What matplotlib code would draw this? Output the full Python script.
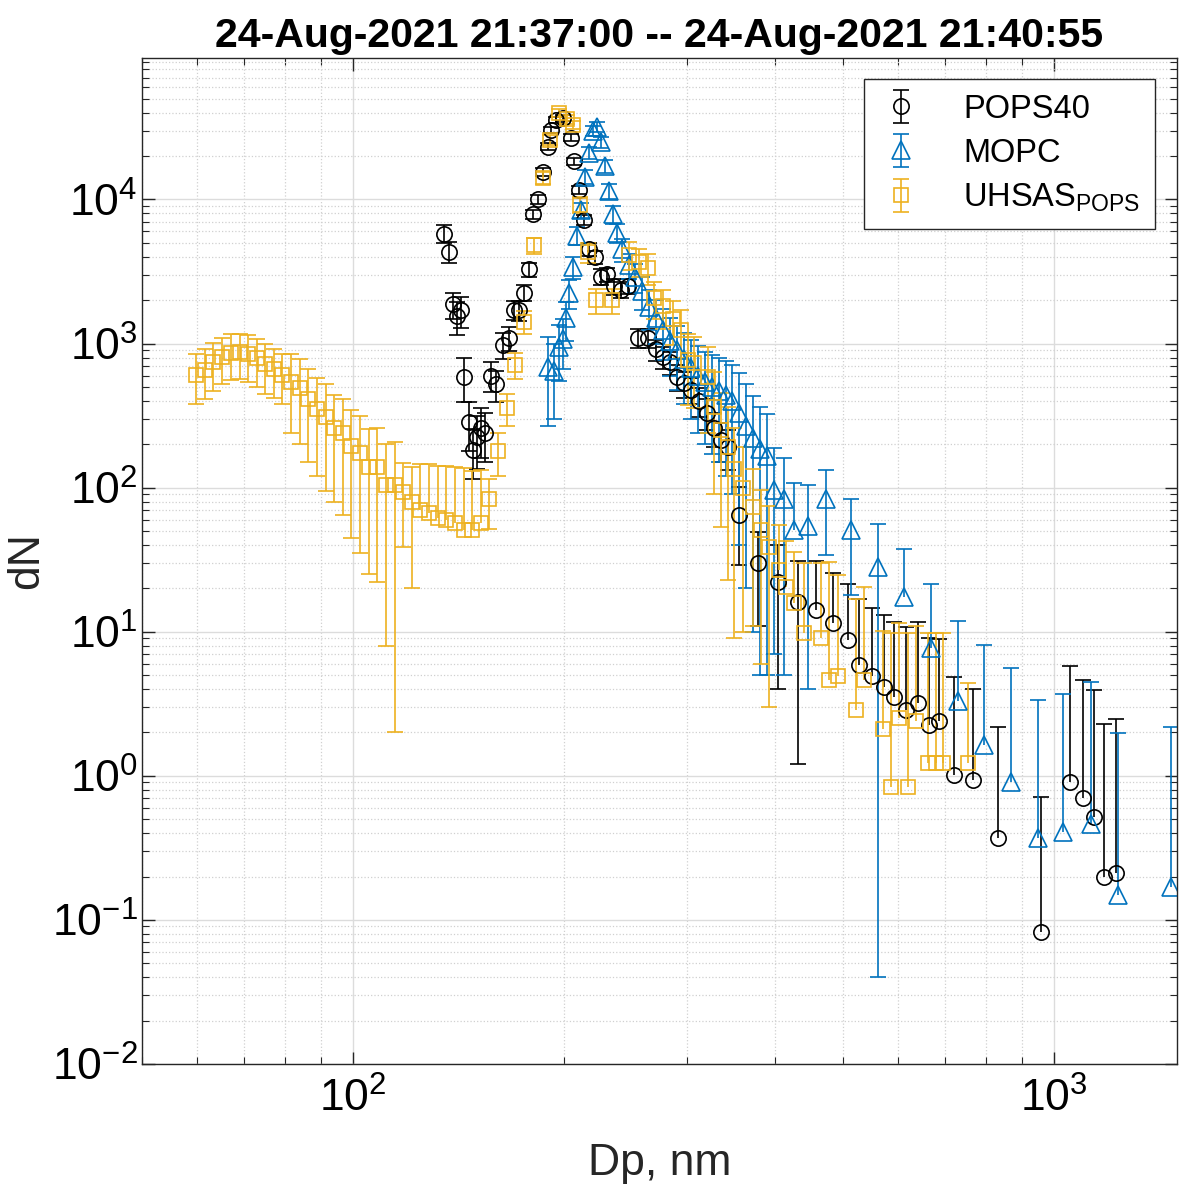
import numpy as np
import matplotlib.pyplot as plt
from matplotlib.ticker import LogLocator, NullFormatter

plt.rcParams['font.family'] = ['Liberation Sans', 'DejaVu Sans']
plt.rcParams['mathtext.fontset'] = 'custom'
plt.rcParams['mathtext.rm'] = 'Liberation Sans'
plt.rcParams['mathtext.it'] = 'Liberation Sans:italic'
plt.rcParams['mathtext.bf'] = 'Liberation Sans:bold'
plt.rcParams['axes.unicode_minus'] = False

# POPS40 (black circles)
pops_dp = [134.8, 137.1, 138.9, 140.7, 142.6, 144.0, 146.4, 148.3, 150.3, 152.3,
           154.3, 157.4, 160.0, 163.7, 166.9, 169.7, 172.5, 175.4, 178.2, 180.6,
           183.7, 186.6, 189.7, 191.6, 194.8, 199.3, 204.6, 206.7, 210.1, 213.6,
           217.1, 221.4, 225.8, 230.3, 235.7, 241.2, 246.8, 255.0, 263.5, 270.5,
           276.8, 283.3, 289.9, 296.6, 303.5, 311.6, 319.9, 327.3, 335.0, 342.8,
           355.3, 378.3, 404.0, 431.3, 457.7, 483.9, 508.3, 527.0, 550.0, 572.1,
           591.2, 615.0, 639.7, 663.3, 685.5, 719.8, 766.3, 832.0, 958.3, 1057,
           1100, 1141, 1179, 1226]
pops_dn = [5800, 4350, 1870, 1550, 1700, 590, 287, 184, 225, 260,
           240, 600, 520, 985, 1100, 1720, 1700, 2260, 3270, 7870,
           10000, 15600, 23300, 30600, 35900, 37000, 26900, 18400, 11700, 7260,
           4500, 3990, 2920, 3020, 2490, 2370, 2500, 1100, 1100, 910,
           810, 740, 590, 530, 480, 400, 330, 260, 215, 193,
           65, 30, 22, 16, 14.1, 11.5, 8.8, 5.9, 4.9, 4.15,
           3.5, 2.87, 3.2, 2.26, 2.4, 1.02, 0.94, 0.37, 0.083, 0.91,
           0.70, 0.52, 0.197, 0.21]
pops_err = [800, 700, 390, 400, 420, 200, 108, 70, 90, 100,
            90, 140, 130, 200, 210, 260, 260, 300, 380, 600,
            700, 1000, 1300, 1500, 1700, 1700, 1400, 1100, 800, 600,
            450, 400, 350, 350, 300, 300, 300, 170, 170, 150,
            140, 130, 120, 110, 100, 90, 80, 70, 65, 60,
            36, 19, 18, 14.8, 17, 14, 12.6, 11, 9.7, 9,
            8.1, 8, 8.5, 6.8, 6.5, 3.85, 3.06, 1.82, 0.63, 4.83,
            3.9, 3.43, 2.1, 2.27]

# MOPC (blue triangles)
mopc_dp = [189.7, 193.5, 196.7, 199.3, 201.3, 203.3, 206.0, 208.7, 211.5, 214.3,
           217.1, 220.0, 222.9, 225.8, 228.8, 231.9, 234.9, 238.0, 242.0, 247.6,
           252.6, 258.4, 264.4, 270.5, 276.8, 283.3, 289.9, 296.6, 303.5, 310.5,
           317.8, 325.2, 332.7, 340.5, 347.3, 355.3, 363.6, 372.0, 380.7, 389.6,
           398.6, 411.9, 425.7, 445.8, 472.9, 513.4, 561.0, 610.9, 667.6, 729.5,
           794.5, 868.4, 948.9, 1033, 1129, 1234, 1469]
mopc_dn = [690, 650, 950, 1070, 1500, 2250, 3400, 5600, 8500, 14400,
           21000, 30000, 32000, 25000, 17000, 11500, 7900, 5900, 4500, 3500,
           2900, 2300, 1800, 1500, 1250, 1050, 900, 780, 680, 600,
           540, 500, 470, 440, 400, 330, 270, 220, 185, 165,
           97, 83, 51, 54, 83, 51, 28, 17.5, 7.7, 3.3,
           1.64, 0.91, 0.37, 0.41, 0.46, 0.148, 0.17]
mopc_err = [420, 350, 400, 400, 450, 500, 600, 800, 1000, 1500,
            2000, 2500, 2500, 2200, 1800, 1400, 1100, 900, 800, 700,
            650, 600, 550, 500, 480, 450, 420, 400, 380, 360,
            340, 330, 320, 320, 310, 290, 250, 210, 180, 160,
            90, 78, 57, 50, 49, 33, 27.96, 19.8, 13.9, 8.6,
            6.4, 4.7, 3.0, 3.3, 4.0, 1.84, 2.02]

# UHSAS (orange squares)
uhsas_dp = [59.8, 61.5, 63.2, 65.1, 66.9, 68.9, 70.8, 72.9, 75.0, 77.1,
            79.3, 81.6, 84.0, 86.4, 88.9, 91.4, 94.0, 96.7, 99.5, 102.4,
            105.3, 108.3, 111.5, 114.7, 118.0, 121.4, 124.8, 128.4, 132.1, 135.9,
            139.8, 143.9, 148.0, 152.2, 156.6, 161.1, 165.7, 170.5, 175.4, 181.2,
            186.6, 191.0, 196.7, 202.0, 206.0, 210.8, 216.4, 222.1, 234.2, 247.6,
            255.7, 263.5, 268.8, 276.8, 286.1, 293.7, 300.5, 306.4, 320.8, 327.3,
            335.0, 342.8, 349.5, 360.1, 372.0, 381.9, 392.2, 405.3, 414.7, 425.7,
            440.0, 465.2, 477.5, 491.9, 521.9, 535.8, 570.3, 585.5, 601.0, 619.0,
            635.7, 661.2, 678.7, 694.5, 753.8]
uhsas_dn = [610, 660, 740, 810, 860, 870, 840, 790, 720, 670,
            610, 540, 490, 410, 350, 310, 260, 240, 195, 175,
            140, 140, 105, 105, 94, 80, 70, 67, 62, 60,
            57, 51, 51, 57, 83, 180, 360, 714, 1420, 4800,
            14200, 26000, 40000, 36000, 33000, 9200, 4300, 2000, 2000, 4150,
            3700, 3370, 2080, 1810, 1470, 1250, 774, 738, 590, 365,
            253, 193, 134, 100, 73, 51, 39, 27, 20.5, 15.9,
            9.8, 9.1, 4.6, 4.9, 2.87, 4.6, 2.1, 0.83, 2.5, 0.83,
            2.4, 1.23, 1.23, 1.23, 1.23]
uhsas_err = [230, 250, 270, 290, 300, 300, 300, 290, 270, 250,
             230, 300, 290, 260, 230, 215, 180, 175, 150, 140,
             115, 118, 97, 103, 55, 60, 75, 80, 80, 82,
             83, 85, 80, 75, 31, 60, 90, 150, 250, 600,
             1300, 2000, 2800, 2500, 2300, 1200, 700, 400, 400, 900,
             800, 800, 600, 550, 500, 450, 400, 380, 350, 275,
             200, 170, 125, 90, 62, 45, 36, 28, 22, 20,
             20, 21, 26, 20, 14, 16, 8, 9, 9, 9,
             8.5, 8.5, 8.5, 8.5, 3.2]

y_ticks = [1e-2, 1e-1, 1e0, 1e1, 1e2, 1e3, 1e4]
x_ticks = [1e2, 1e3]
title = '24-Aug-2021 21:37:00 -- 24-Aug-2021 21:40:55'

fig = plt.figure(figsize=(11.81, 11.88), dpi=100)
ax = fig.add_axes([0.1202, 0.1044, 0.8764, 0.8468])
ax.set_xscale('log')
ax.set_yscale('log')


def errplot(dp, dn, err, color, marker, ms, label):
    dp = np.array(dp)
    dn = np.array(dn)
    err = np.array(err)
    # like MATLAB on log axes: lower half is not drawn when it would reach <= 0
    ok = dn - err > 0
    lo = np.where(ok, err, 0.0)
    eb = ax.errorbar(dp, dn, yerr=[lo, err], fmt=marker, color=color,
                     mfc='none', mec=color, ms=ms, mew=1.2, elinewidth=1.2,
                     capsize=5.5, capthick=1.2, label=label)
    lower_caps = eb[1][0]
    lower_caps.set_ydata(np.where(ok, dn - err, np.nan))
    return eb


errplot(pops_dp, pops_dn, pops_err, 'black', 'o', 11, 'POPS40')
errplot(mopc_dp, mopc_dn, mopc_err, '#0072BD', '^', 12.5, 'MOPC')
errplot(uhsas_dp, uhsas_dn, uhsas_err, '#EDB120', 's', 9.5,
        'UHSAS$_{\\mathrm{POPS}}$')

ax.set_xlim(50, 1500)
ax.set_ylim(1e-2, 9.6e4)

ax.set_yticks(y_ticks)
ax.set_xticks(x_ticks)
ax.yaxis.set_minor_locator(LogLocator(base=10, subs=np.arange(2, 10), numticks=20))
ax.yaxis.set_minor_formatter(NullFormatter())
ax.xaxis.set_minor_formatter(NullFormatter())

ax.grid(True, which='major', color='#dcdcdc', lw=1.0, ls='-')
ax.grid(True, which='minor', color='#d0d0d0', lw=0.9, ls=':')
ax.set_axisbelow(True)

ax.tick_params(which='both', direction='in', top=True, right=True,
               labelsize=32, color='#262626')
ax.tick_params(which='major', length=9, width=1)
ax.tick_params(which='minor', length=5, width=0.8)
ax.tick_params(axis='x', pad=10)
ax.tick_params(axis='y', pad=3)
for s in ax.spines.values():
    s.set_color('#262626')
    s.set_linewidth(1.0)

ax.set_xlabel('Dp, nm', fontsize=32, labelpad=16, color='#262626')
ax.set_ylabel('dN', fontsize=32, color='#262626')
ax.yaxis.set_label_coords(-0.092, 0.5)
ax.set_title(title, fontsize=29.5, fontweight='bold', pad=8)

leg = ax.legend(loc='upper right', bbox_to_anchor=(0.979, 0.979),
                borderaxespad=0, fontsize=23.5, frameon=True, fancybox=False,
                edgecolor='#262626', framealpha=1, handlelength=1.4,
                handletextpad=1.2, labelspacing=0.4, borderpad=0.45)
leg.get_frame().set_linewidth(1.0)

fig.savefig('out.png', dpi=100)
